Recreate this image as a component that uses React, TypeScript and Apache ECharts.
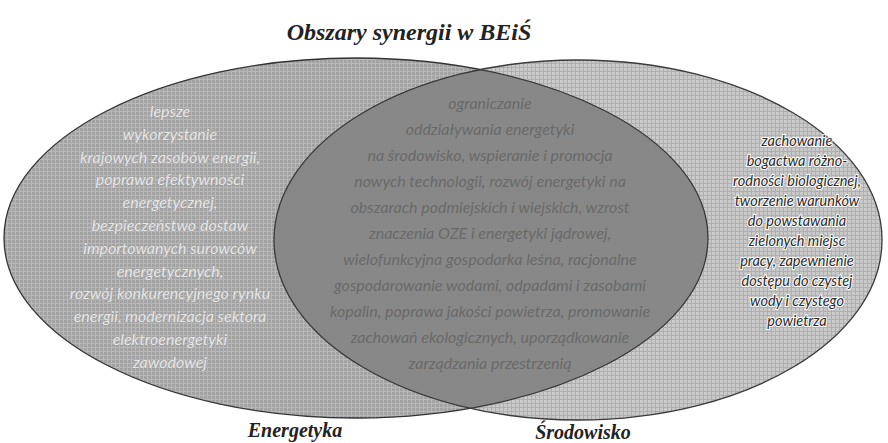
import React, { useEffect, useRef } from "react";
import * as echarts from "echarts";

const title = "Obszary synergii w BEiŚ";
const setNames = ["Energetyka", "Środowisko"];
const energyOnly = [
  "lepsze",
  "wykorzystanie",
  "krajowych zasobów energii,",
  "poprawa efektywności",
  "energetycznej,",
  "bezpieczeństwo dostaw",
  "importowanych surowców",
  "energetycznych,",
  "rozwój konkurencyjnego rynku",
  "energii, modernizacja sektora",
  "elektroenergetyki",
  "zawodowej",
];
const overlap = [
  "ograniczanie",
  "oddziaływania energetyki",
  "na środowisko, wspieranie i promocja",
  "nowych technologii, rozwój energetyki na",
  "obszarach podmiejskich i wiejskich, wzrost",
  "znaczenia OZE i energetyki jądrowej,",
  "wielofunkcyjna gospodarka leśna, racjonalne",
  "gospodarowanie wodami, odpadami i zasobami",
  "kopalin, poprawa jakości powietrza, promowanie",
  "zachowań ekologicznych, uporządkowanie",
  "zarządzania przestrzenią",
];
const envOnly = [
  "zachowanie",
  "bogactwa różno-",
  "rodności biologicznej,",
  "tworzenie warunków",
  "do powstawania",
  "zielonych miejsc",
  "pracy, zapewnienie",
  "dostępu do czystej",
  "wody i czystego",
  "powietrza",
];

function gridPattern(base: string, line: string, size: number): any {
  const c = document.createElement("canvas");
  c.width = size;
  c.height = size;
  const ctx = c.getContext("2d");
  if (!ctx) return base;
  ctx.fillStyle = base;
  ctx.fillRect(0, 0, size, size);
  ctx.fillStyle = line;
  ctx.fillRect(size - 1, 0, 1, size);
  ctx.fillRect(0, size - 1, size - 1, 1);
  return { image: c.toDataURL(), repeat: "repeat" };
}

export default function App() {
  const ref = useRef<HTMLDivElement>(null);
  useEffect(() => {
    if (!ref.current) return;
    const chart = echarts.init(ref.current, null, { renderer: "svg" });
    const serif = "'Liberation Serif', 'Times New Roman', serif";
    const sans = "Lato, 'Noto Sans', sans-serif";
    const leftFill = gridPattern("#a3a3a3", "#b8b8b8", 4);
    const rightFill = gridPattern("rgba(68,68,68,0.29)", "rgba(68,68,68,0.2)", 4);
    chart.setOption({
      animation: false,
      graphic: [
        {
          type: "ellipse",
          shape: { cx: 356, cy: 238, rx: 352, ry: 180 },
          style: { fill: leftFill, stroke: "#333", lineWidth: 1.3 },
        },
        {
          type: "ellipse",
          shape: { cx: 578, cy: 240, rx: 304, ry: 180 },
          style: { fill: rightFill, stroke: "#3a3a3a", lineWidth: 1.3 },
        },
        {
          type: "text",
          style: {
            text: title,
            x: 409,
            y: 32,
            align: "center",
            verticalAlign: "middle",
            fontFamily: serif,
            fontSize: 24,
            fontStyle: "italic",
            fontWeight: "bold",
            fill: "#222",
          },
        },
        {
          type: "text",
          style: {
            text: setNames[0],
            x: 295,
            y: 430,
            align: "center",
            verticalAlign: "middle",
            fontFamily: serif,
            fontSize: 20,
            fontStyle: "italic",
            fontWeight: "bold",
            fill: "#222",
          },
        },
        {
          type: "text",
          style: {
            text: setNames[1],
            x: 583,
            y: 432,
            align: "center",
            verticalAlign: "middle",
            fontFamily: serif,
            fontSize: 20,
            fontStyle: "italic",
            fontWeight: "bold",
            fill: "#222",
          },
        },
        {
          type: "text",
          style: {
            text: energyOnly.join("\n"),
            x: 170,
            y: 99,
            align: "center",
            verticalAlign: "top",
            fontFamily: sans,
            fontSize: 16,
            fontStyle: "italic",
            lineHeight: 22.8,
            fill: "#e6e6e6",
            stroke: "#9a9a9a",
            lineWidth: 0.6,
          },
        },
        {
          type: "text",
          style: {
            text: overlap.join("\n"),
            x: 490,
            y: 89,
            align: "center",
            verticalAlign: "top",
            fontFamily: sans,
            fontSize: 16,
            fontStyle: "italic",
            lineHeight: 26,
            fill: "#6a6a6a",
          },
        },
        {
          type: "text",
          style: {
            text: envOnly.join("\n"),
            x: 797,
            y: 130,
            align: "center",
            verticalAlign: "top",
            fontFamily: sans,
            fontSize: 14.5,
            fontStyle: "italic",
            lineHeight: 20,
            fill: "#2a2a2a",
            stroke: "#ffffff",
            lineWidth: 2,
          },
        },
      ],
    });
    return () => chart.dispose();
  }, []);
  return (
    <div
      ref={ref}
      style={{ position: "fixed", left: 0, top: 0, width: 888, height: 443, background: "#fff" }}
    />
  );
}
